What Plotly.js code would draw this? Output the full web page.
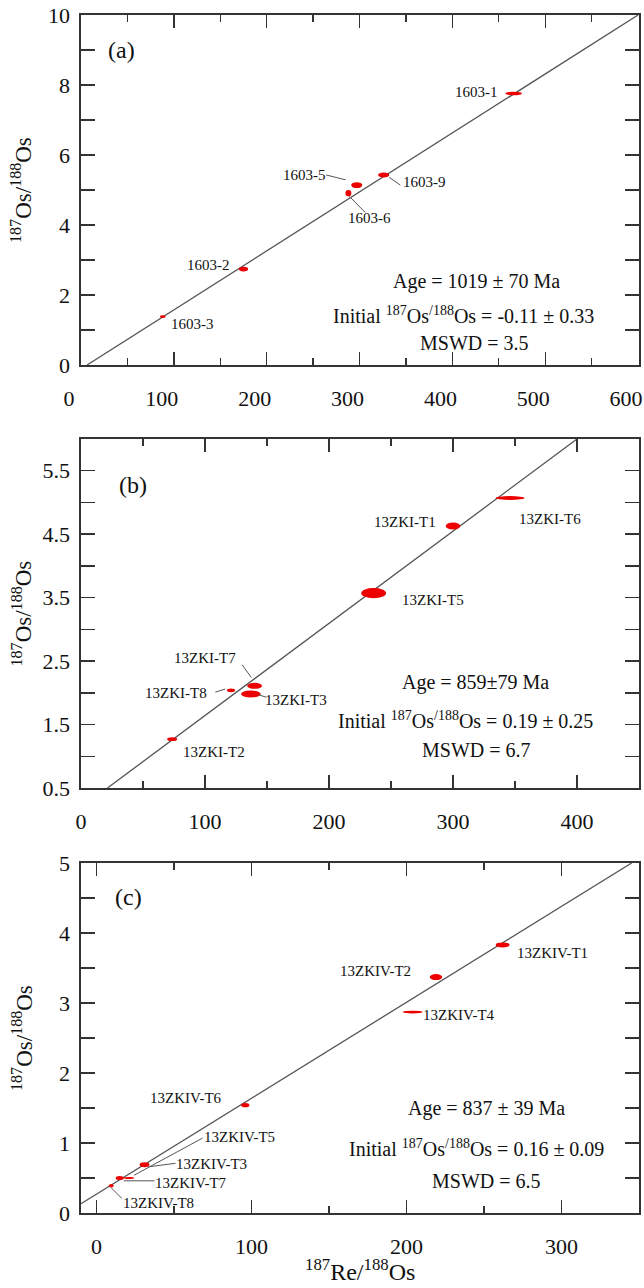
<!DOCTYPE html>
<html><head><meta charset="utf-8">
<script src="https://cdn.plot.ly/plotly-3.0.1.min.js"></script>
<style>html,body{margin:0;padding:0;background:#fff}#chart{width:644px;height:1288px}</style>
</head><body><div id="chart"></div>
<script>
// ---------- Panel (a) data ----------
const aSamples = ['1603-1', '1603-5', '1603-9', '1603-6', '1603-2', '1603-3'];
const aRe      = [466, 297, 326, 288, 175, 88];          // 187Re/188Os
const aOs      = [7.76, 5.14, 5.43, 4.91, 2.74, 1.38];   // 187Os/188Os
const aReErr   = [9, 6, 6, 3.2, 5, 3];
const aOsErr   = [0.05, 0.085, 0.07, 0.09, 0.07, 0.04];
const aIsoIntercept = -0.11;
const aIsoSlope = 0.01685;
const aXTicks = [0, 100, 200, 300, 400, 500, 600];
const aYTicks = [0, 2, 4, 6, 8, 10];
const aStats = ['Age = 1019 ± 70 Ma', 'Initial <sup>187</sup>Os<sup>/188</sup>Os = -0.11 ± 0.33', 'MSWD = 3.5'];

// ---------- Panel (b) data ----------
const bSamples = ['13ZKI-T6', '13ZKI-T1', '13ZKI-T5', '13ZKI-T7', '13ZKI-T3', '13ZKI-T8', '13ZKI-T2'];
const bRe      = [346, 300, 236, 140, 137, 121, 73.5];
const bOs      = [5.07, 4.63, 3.57, 2.11, 1.98, 2.04, 1.27];
const bReErr   = [11.7, 5.9, 10, 6, 8, 3.3, 4];
const bOsErr   = [0.03, 0.055, 0.08, 0.047, 0.055, 0.03, 0.03];
const bIsoIntercept = 0.19;
const bIsoSlope = 0.014525;
const bXTicks = [0, 100, 200, 300, 400];
const bYTicks = [0.5, 1.5, 2.5, 3.5, 4.5, 5.5];
const bStats = ['Age = 859±79 Ma', 'Initial <sup>187</sup>Os<sup>/188</sup>Os = 0.19 ± 0.25', 'MSWD = 6.7'];

// ---------- Panel (c) data ----------
const cSamples = ['13ZKIV-T1', '13ZKIV-T2', '13ZKIV-T4', '13ZKIV-T6', '13ZKIV-T3', '13ZKIV-T5', '13ZKIV-T7', '13ZKIV-T8'];
const cRe      = [262, 219, 204, 96, 31, 21, 15, 9.5];
const cOs      = [3.83, 3.37, 2.87, 1.54, 0.69, 0.50, 0.50, 0.39];
const cReErr   = [4.5, 4, 6.5, 2.6, 3.2, 3.3, 2.6, 1.6];
const cOsErr   = [0.036, 0.043, 0.02, 0.03, 0.035, 0.015, 0.03, 0.025];
const cIsoIntercept = 0.27;
const cIsoSlope = 0.0137;
const cXTicks = [0, 100, 200, 300];
const cYTicks = [0, 1, 2, 3, 4, 5];
const cStats = ['Age = 837 ± 39 Ma', 'Initial <sup>187</sup>Os<sup>/188</sup>Os = 0.16 ± 0.09', 'MSWD = 6.5'];

const yTitle = '<sup>187</sup>Os/<sup>188</sup>Os';
const xTitle = '<sup>187</sup>Re/<sup>188</sup>Os';

// ---------- layout / placement (not data) ----------
const W = 644, H = 1288;
const SERIF = "'Liberation Serif', 'Times New Roman', serif";
const RED = 'rgb(236,0,0)';
const FRAME = '#333';
const plotL = 81, plotR = 639;
const panelBox = [{top: 15, bottom: 365}, {top: 439, bottom: 788}, {top: 863, bottom: 1213}];

const panels = [
  {id: '', tag: '(a)', tagPos: [44, 9.0], xr: [0, 601], yr: [0, 10], xMinor: 50, yMinor: 1, xShift: -12,
   names: aSamples, re: aRe, os: aOs, rex: aReErr, osx: aOsErr, b0: aIsoIntercept, b1: aIsoSlope,
   xt: aXTicks, yt: aYTicks, stats: aStats, statPos: [[426, 2.40], [412, 1.43], [424, 0.62]],
   labelPos: {'1603-1': [426, 7.80], '1603-5': [241, 5.43], '1603-9': [370, 5.22], '1603-6': [311, 4.20], '1603-2': [137, 2.86], '1603-3': [120, 1.18]},
   leaders: [[264, 5.43, 285, 5.29], [332, 5.36, 344, 5.14], [289, 4.82, 306, 4.36]]},
  {id: '2', tag: '(b)', tagPos: [42, 5.27], xr: [0, 450], yr: [0.5, 6.0], xMinor: 50, yMinor: 0.5, xShift: 0,
   names: bSamples, re: bRe, os: bOs, rex: bReErr, osx: bOsErr, b0: bIsoIntercept, b1: bIsoSlope,
   xt: bXTicks, yt: bYTicks, stats: bStats, statPos: [[318, 2.17], [310, 1.57], [319, 1.10]],
   labelPos: {'13ZKI-T6': [378, 4.74], '13ZKI-T1': [261, 4.69], '13ZKI-T5': [284, 3.46], '13ZKI-T7': [100, 2.55], '13ZKI-T3': [173, 1.89], '13ZKI-T8': [77, 2.0], '13ZKI-T2': [107, 1.07]},
   leaders: [[130, 2.44, 137.4, 2.24], [108.3, 2.01, 116.3, 2.06], [143, 1.97, 149.5, 1.93]]},
  {id: '3', tag: '(c)', tagPos: [20.5, 4.51], xr: [-10, 350], yr: [0, 5], xMinor: 50, yMinor: 0.5, xShift: 0,
   names: cSamples, re: cRe, os: cOs, rex: cReErr, osx: cOsErr, b0: cIsoIntercept, b1: cIsoSlope,
   xt: cXTicks, yt: cYTicks, stats: cStats, statPos: [[251.5, 1.50], [245, 0.93], [251.5, 0.46]],
   labelPos: {'13ZKIV-T1': [294, 3.71], '13ZKIV-T2': [180, 3.46], '13ZKIV-T4': [234, 2.83], '13ZKIV-T6': [57.7, 1.64], '13ZKIV-T5': [92.5, 1.09], '13ZKIV-T3': [74, 0.70], '13ZKIV-T7': [61, 0.43], '13ZKIV-T8': [40, 0.15]},
   leaders: [[68.4, 1.07, 24.3, 0.54], [51, 0.71, 33.5, 0.66], [37.5, 0.46, 17.6, 0.46], [16.3, 0.21, 9.5, 0.36]]}
];

const traces = [];
const shapes = [];
const annotations = [];
const layout = {
  width: W, height: H, margin: {l: 0, r: 0, t: 0, b: 0},
  paper_bgcolor: '#fff', plot_bgcolor: '#fff', showlegend: false,
  font: {family: SERIF, color: '#111'}
};

panels.forEach((p, i) => {
  const xa = 'x' + p.id, ya = 'y' + p.id;
  const box = panelBox[i];
  const common = {
    showline: true, linecolor: FRAME, linewidth: 1.6, mirror: 'ticks',
    ticks: 'inside', tickcolor: FRAME, tickwidth: 1.4,
    showgrid: false, zeroline: false, fixedrange: true,
    ticklabeloverflow: 'allow',
    tickfont: {family: SERIF, size: 22, color: '#111'}
  };
  layout['xaxis' + p.id] = Object.assign({}, common, {
    domain: [plotL / W, plotR / W], anchor: ya, range: p.xr,
    tickmode: 'array', tickvals: p.xt, ticktext: p.xt.map(String), ticklen: 13,
    ticklabelstandoff: 13, ticklabelshift: p.xShift,
    minor: {dtick: p.xMinor, tick0: 0, ticks: 'inside', ticklen: 7, tickcolor: FRAME, tickwidth: 1.4, showgrid: false}
  });
  layout['yaxis' + p.id] = Object.assign({}, common, {
    domain: [1 - box.bottom / H, 1 - box.top / H], anchor: xa, range: p.yr,
    tickmode: 'array', tickvals: p.yt, ticktext: p.yt.map(String), ticklen: 14,
    ticklabelstandoff: 5,
    minor: {dtick: p.yMinor, tick0: p.yr[0], ticks: 'inside', ticklen: 14, tickcolor: FRAME, tickwidth: 1.4, showgrid: false}
  });

  // isochron line across the panel
  const x0 = Math.max(p.xr[0], (p.yr[0] - p.b0) / p.b1);
  const x1 = Math.min(p.xr[1], (p.yr[1] - p.b0) / p.b1);
  traces.push({
    type: 'scatter', mode: 'lines', xaxis: xa, yaxis: ya,
    x: [x0, x1], y: [p.b0 + p.b1 * x0, p.b0 + p.b1 * x1],
    line: {color: '#555', width: 1.3}, hoverinfo: 'skip'
  });
  // invisible centre points (for hover)
  traces.push({
    type: 'scatter', mode: 'markers', xaxis: xa, yaxis: ya,
    x: p.re, y: p.os, text: p.names, marker: {size: 1, color: 'rgba(0,0,0,0)'}
  });

  // error ellipses
  p.names.forEach((n, k) => {
    shapes.push({
      type: 'circle', xref: xa, yref: ya, layer: 'above',
      x0: p.re[k] - p.rex[k], x1: p.re[k] + p.rex[k],
      y0: p.os[k] - p.osx[k], y1: p.os[k] + p.osx[k],
      fillcolor: RED, line: {width: 0}
    });
    const lp = p.labelPos[n];
    annotations.push({
      xref: xa, yref: ya, x: lp[0], y: lp[1], text: n, showarrow: false,
      xanchor: 'center', yanchor: 'middle', font: {family: SERIF, size: 15, color: '#111'}
    });
  });
  p.leaders.forEach(L => {
    shapes.push({type: 'line', xref: xa, yref: ya, x0: L[0], y0: L[1], x1: L[2], y1: L[3],
      line: {color: '#555', width: 1}});
  });

  // stats text
  p.stats.forEach((s, k) => {
    annotations.push({
      xref: xa, yref: ya, x: p.statPos[k][0], y: p.statPos[k][1], text: s, showarrow: false,
      xanchor: 'center', yanchor: 'middle', font: {family: SERIF, size: 20, color: '#111'}
    });
  });
  // panel tag
  annotations.push({
    xref: xa, yref: ya, x: p.tagPos[0], y: p.tagPos[1], text: p.tag, showarrow: false,
    xanchor: 'center', yanchor: 'middle', font: {family: SERIF, size: 24, color: '#111'}
  });
  // y title
  annotations.push({
    xref: 'paper', yref: 'paper', x: 22 / W, y: 1 - (box.top + box.bottom) / 2 / H,
    text: yTitle, textangle: -90, showarrow: false, xanchor: 'center', yanchor: 'middle',
    font: {family: SERIF, size: 23, color: '#111'}
  });
});

// x title (bottom panel)
annotations.push({
  xref: 'paper', yref: 'paper', x: (plotL + plotR) / 2 / W, y: 1 - 1270 / H,
  text: xTitle, showarrow: false, xanchor: 'center', yanchor: 'middle',
  font: {family: SERIF, size: 24, color: '#111'}
});

layout.shapes = shapes;
layout.annotations = annotations;

Plotly.newPlot('chart', traces, layout, {displayModeBar: false, staticPlot: true});
</script>
</body></html>
